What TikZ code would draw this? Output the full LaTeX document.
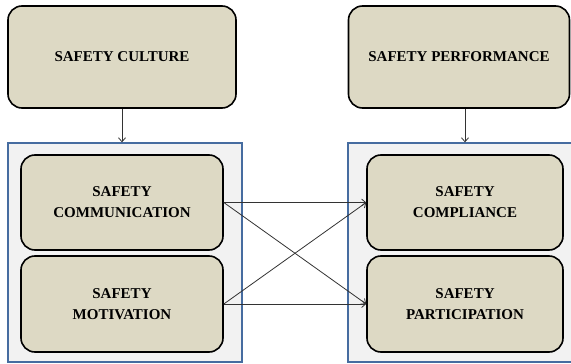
\documentclass[tikz,border=0pt]{standalone}
\usepackage{fontspec}
\setmainfont{Liberation Serif}
\usetikzlibrary{arrows.meta}
\definecolor{tanbox}{RGB}{221,217,196}
\definecolor{grpfill}{RGB}{242,242,242}
\definecolor{grpline}{RGB}{70,108,160}

\begin{document}
\begin{tikzpicture}[x=1pt,y=-1pt,
  factor/.style={draw,line width=1.6pt,rounded corners=14pt,fill=tanbox,
    align=center,inner sep=0pt,
    font=\bfseries\fontsize{15}{21}\selectfont},
  group/.style={draw=grpline,line width=1.3pt,fill=grpfill,inner sep=0pt},
  link/.style={-{Straight Barb[length=4pt,width=7pt]},line width=0.8pt,draw=black!80}]
\clip (0,0) rectangle (571,364);
\useasboundingbox (0,0) rectangle (571,364);
% outer groups
\node[group,minimum width=234pt,minimum height=219pt] (leftgrp) at (125,252.5) {};
\node[group,minimum width=232pt,minimum height=219pt] (rightgrp) at (464,252.5) {};
% top factors
\node[factor,minimum width=228pt,minimum height=102pt] (culture) at (122,57) {SAFETY CULTURE};
\node[factor,minimum width=221pt,minimum height=102pt] (perf) at (459,57) {SAFETY PERFORMANCE};
% left group
\node[factor,minimum width=202pt,minimum height=95pt] (comm) at (122,202.5) {SAFETY\\COMMUNICATION};
\node[factor,minimum width=202pt,minimum height=96pt] (motiv) at (122,304) {SAFETY\\MOTIVATION};
% right group
\node[factor,minimum width=196pt,minimum height=95pt] (compl) at (465,202.5) {SAFETY\\COMPLIANCE};
\node[factor,minimum width=196pt,minimum height=96pt] (part) at (465,304) {SAFETY\\PARTICIPATION};
% arrows
\draw[link] (culture.south) -- (culture.south |- leftgrp.north);
\draw[link] (perf.south -| compl.north) -- (compl.north |- rightgrp.north);
\draw[link] (comm.east) -- (compl.west);
\draw[link] (comm.east) -- (part.west);
\draw[link] (motiv.east) -- (compl.west);
\draw[link] (motiv.east) -- (part.west);
\end{tikzpicture}
\end{document}
